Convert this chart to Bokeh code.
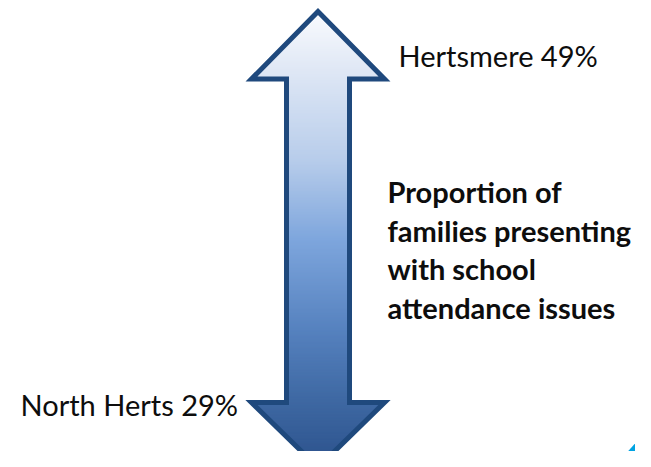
import numpy as np
from bokeh.plotting import figure
from bokeh.models import Range1d
from bokeh.core.properties import value
from bokeh.embed import file_html
from bokeh.resources import INLINE

# ---- data ----
areas = ["Hertsmere", "North Herts"]
percents = [49, 29]
caption_lines = ["Proportion of", "families presenting", "with  school", "attendance  issues"]

# ---- layout (picture pixel coordinates) ----
W, H = 635, 451
p = figure(width=W, height=H, output_backend="svg", toolbar_location=None,
           x_range=Range1d(0, W), y_range=Range1d(H, 0),
           min_border=0, outline_line_color=None)
p.axis.visible = False
p.grid.visible = False
p.background_fill_color = "white"
p.border_fill_color = "white"

# arrow geometry
cx = 317.5
tip_top, tip_bot = 11.0, 467.0
head_top_base, head_bot_base = 78.5, 402.0
wing_half = 66.5
shaft_half = 31.5

stops_y = [10, 60, 160, 240, 330, 400, 467]
stops_c = ["#FBFCFF", "#E4EBF7", "#B8CDEB", "#7EA6DD", "#5682BF", "#3F69A3", "#2C528C"]

def hex2rgb(h):
    return np.array([int(h[i:i + 2], 16) for i in (1, 3, 5)], float)

rgbs = np.array([hex2rgb(c) for c in stops_c])

def color_at(y):
    r = np.interp(y, stops_y, rgbs[:, 0])
    g = np.interp(y, stops_y, rgbs[:, 1])
    b = np.interp(y, stops_y, rgbs[:, 2])
    return "#%02x%02x%02x" % (int(r), int(g), int(b))

def half_width(y):
    if y <= head_top_base:
        return wing_half * (y - tip_top) / (head_top_base - tip_top)
    if y >= head_bot_base:
        return wing_half * (tip_bot - y) / (tip_bot - head_bot_base)
    return shaft_half

xs, ys, cols = [], [], []
step = 1.5
y = tip_top
while y < tip_bot:
    a, b = y, min(y + step, tip_bot)
    w1, w2 = half_width(a), half_width(b)
    if a < head_top_base < b or a < head_bot_base < b:
        w1 = w2 = max(w1, w2)
    xs.append([cx - w1, cx + w1, cx + w2, cx - w2])
    ys.append([a, a, b, b])
    cols.append(color_at((a + b) / 2))
    y = b

p.patches(xs, ys, fill_color=cols, line_color=cols, line_width=1)

outline_x = [cx, cx - wing_half, cx - shaft_half, cx - shaft_half, cx - wing_half, cx,
             cx + wing_half, cx + shaft_half, cx + shaft_half, cx + wing_half, cx]
outline_y = [tip_top, head_top_base, head_top_base, head_bot_base, head_bot_base, tip_bot,
             head_bot_base, head_bot_base, head_top_base, head_top_base, tip_top]
p.patch(outline_x, outline_y, fill_color=None, line_color="#1F497D", line_width=5,
        line_join="miter")

# corner triangle
p.patch([651, 651, 610], [425, 470, 470], fill_color="#00A3E2", line_color=None)

# labels
label_x = [398, 20]
label_y = [55, 404]
labels = [f"{a} {v}%" for a, v in zip(areas, percents)]
p.text(x=label_x, y=label_y, text=labels, text_font=value("Lato"),
       text_font_size="29px", text_color="#0d0d0d", text_baseline="alphabetic")

cap_y = [191, 229.5, 268, 306.5]
p.text(x=[387] * 4, y=cap_y, text=caption_lines, text_font=value("Lato"),
       text_font_style="bold", text_font_size="29px", text_color="#0d0d0d",
       text_baseline="alphabetic")

open("out.html", "w").write(file_html(p, INLINE))
